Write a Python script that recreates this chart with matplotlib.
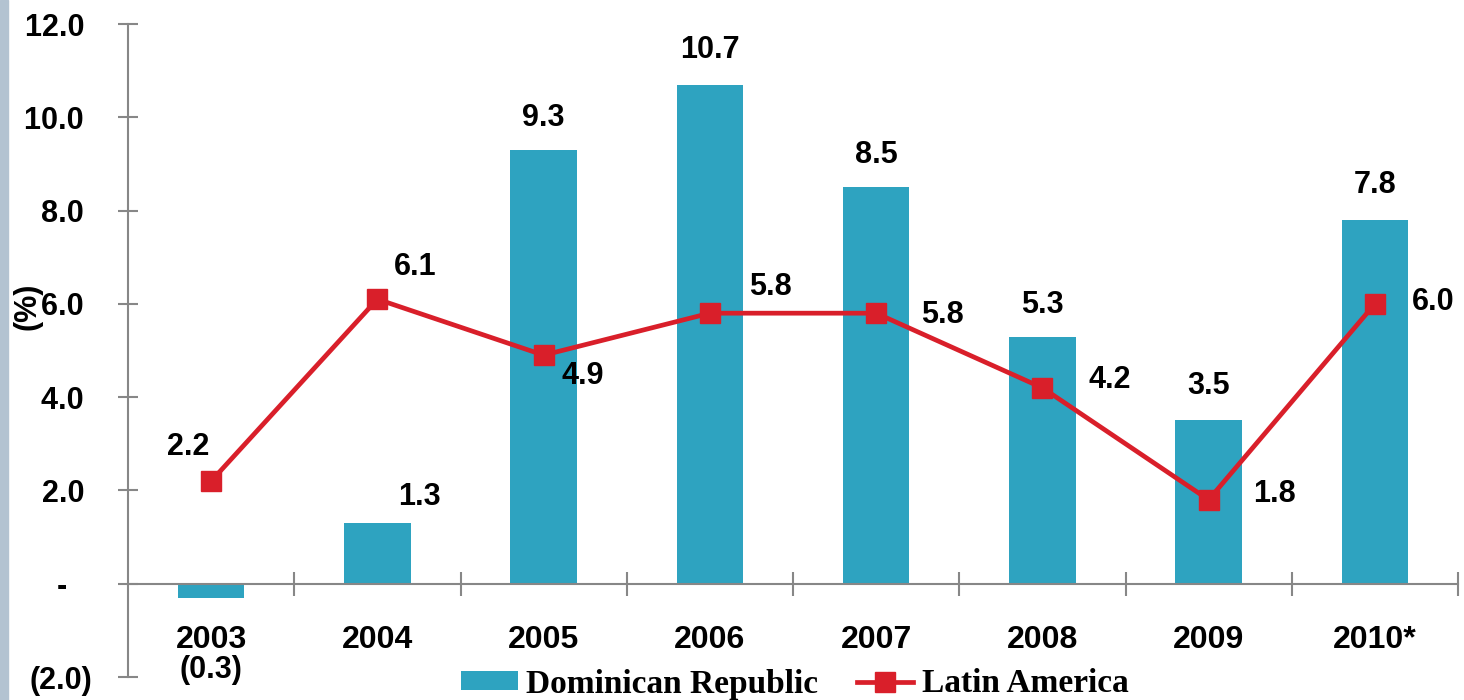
import numpy as np
import matplotlib
matplotlib.use("Agg")
import matplotlib.pyplot as plt
from matplotlib.patches import Rectangle

# growth rates (%)
years = ['2003', '2004', '2005', '2006', '2007', '2008', '2009', '2010*']
dom_rep = [-0.3, 1.3, 9.3, 10.7, 8.5, 5.3, 3.5, 7.8]
lat_am = [2.2, 6.1, 4.9, 5.8, 5.8, 4.2, 1.8, 6.0]
ytick_vals = [-2, 0, 2, 4, 6, 8, 10, 12]
ytick_labels = ['(2.0)', '-   ', '2.0 ', '4.0 ', '6.0 ', '8.0 ', '10.0 ', '12.0 ']

def fmt(v):
    return '({:.1f})'.format(-v) if v < 0 else '{:.1f}'.format(v)

bar_col = '#2ea3c0'
red = '#d91f2a'
grey = '#878787'
FONT = 'Liberation Sans'

fig = plt.figure(figsize=(14.64, 7), dpi=100)
ax = fig.add_axes([128 / 1464, 23 / 700, 1330 / 1464, 653 / 700])

# left border strip
fig.patches.append(Rectangle((0, 0), 8 / 1464, 1, transform=fig.transFigure,
                             color='#b3c3d1', zorder=0))

x = np.arange(len(years))
bars = ax.bar(x, dom_rep, width=0.4, color=bar_col, zorder=2)
line, = ax.plot(x, lat_am, color=red, lw=3.4, marker='s', ms=14.5, zorder=3)

ax.set_xlim(-0.5, len(years) - 0.5)
ax.set_ylim(-2, 12)

for s in ['top', 'right']:
    ax.spines[s].set_visible(False)
ax.spines['bottom'].set_position(('data', 0))
for s in ['bottom', 'left']:
    ax.spines[s].set_color(grey)
    ax.spines[s].set_linewidth(1.5)

ax.set_yticks(ytick_vals)
ax.set_yticklabels(ytick_labels, family=FONT, fontweight='bold', fontsize=22)
ax.tick_params(axis='y', direction='inout', length=14, width=1.5, color=grey, pad=18.5)

# category boundaries as ticks
ax.set_xticks(np.arange(len(years)) + 0.5)
ax.set_xticklabels([])
ax.tick_params(axis='x', direction='inout', length=17, width=1.5, color=grey)

lab = dict(family=FONT, fontweight='bold', fontsize=22, textcoords='offset pixels')

# category names below the zero line
for i, y in enumerate(years):
    ax.annotate(y, (i, 0), xytext=(0, -56), ha='center', va='center',
                **dict(lab, fontsize=23))

# bar labels
bar_off = [(0, -86), (42, 26), (0, 32), (0, 35), (0, 32), (0, 32), (0, 34), (0, 35)]
for i, v in enumerate(dom_rep):
    dx, dy = bar_off[i]
    ax.annotate(fmt(v), (i, max(v, 0)), xytext=(dx, dy), ha='center', va='center', **lab)

# line labels
line_off = [(-23, 34), (38, 32), (39, -21), (61, 26), (66, -2), (67, 8), (66, 6), (58, 2)]
for i, v in enumerate(lat_am):
    dx, dy = line_off[i]
    ax.annotate(fmt(v), (i, v), xytext=(dx, dy), ha='center', va='center', **lab)

fig.text(28 / 1464, 1 - 306 / 700, '(%)', rotation=90, ha='center', va='center',
         family=FONT, fontsize=22, fontweight='bold')

fig.legend([bars, line], ['Dominican Republic', 'Latin America'], loc='center',
           bbox_to_anchor=(795 / 1464, 1 - 684 / 700), ncol=2, frameon=False,
           prop={'family': 'Liberation Serif', 'weight': 'bold', 'size': 24},
           handlelength=1.7, handleheight=0.5, handletextpad=0.25,
           columnspacing=1.15, borderpad=0)

fig.savefig('out.png', dpi=100)
